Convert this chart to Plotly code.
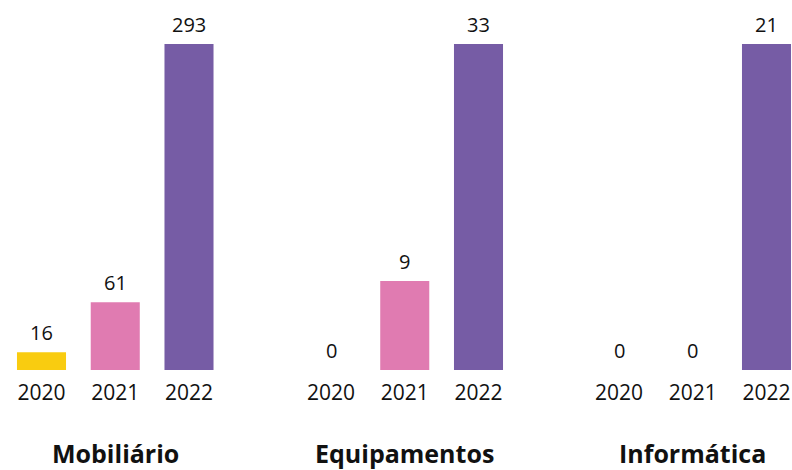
import plotly.graph_objects as go
from plotly.subplots import make_subplots

# data
groups = ['Mobiliário', 'Equipamentos', 'Informática']
years = ['2020', '2021', '2022']
mobiliario = [16, 61, 293]
equipamentos = [0, 9, 33]
informatica = [0, 0, 21]
values = [mobiliario, equipamentos, informatica]
colors = ['#F9CC10', '#E07BB1', '#765CA5']

W, H = 792, 470
group_x0 = [41.5, 331, 619]  # px centre of first bar in each group
spacing = 73.75
baseline_px = 370
top_px = 44  # top of tallest bar

fig = make_subplots(rows=1, cols=3)
font = 'Open Sans'

for i, (name, vals) in enumerate(zip(groups, values)):
    c0 = group_x0[i]
    left = c0 - 37
    right = min(c0 + 2 * spacing + 37, W)
    xa = 'xaxis' if i == 0 else f'xaxis{i+1}'
    ya = 'yaxis' if i == 0 else f'yaxis{i+1}'
    xr = 'x' if i == 0 else f'x{i+1}'
    yr = 'y' if i == 0 else f'y{i+1}'

    fig.add_trace(go.Bar(x=years, y=vals, marker_color=colors, marker_line_width=0,
                         hoverinfo='skip', showlegend=False), row=1, col=i + 1)

    ymax = max(vals) * baseline_px / (baseline_px - top_px)
    fig.layout[xa].update(type='category', domain=[left / W, right / W],
                          range=[(left - c0) / spacing, (right - c0) / spacing],
                          showgrid=False, zeroline=False, showline=False,
                          ticks='outside', ticklen=4, tickcolor='rgba(0,0,0,0)',
                          tickfont=dict(family=font, size=21, color='#111'))
    fig.layout[ya].update(domain=[1 - baseline_px / H, 1], range=[0, ymax],
                          showgrid=False, zeroline=False, showline=False,
                          showticklabels=False, ticks='')

    # value labels (x given as category index)
    for k, v in enumerate(vals):
        fig.add_annotation(x=k, y=v, xref=xr, yref=yr, text=str(v), showarrow=False,
                           yanchor='bottom', yshift=4,
                           font=dict(family=font, size=20, color='#111'))
    # group title
    fig.add_annotation(x=1, y=(H - 453) / H, xref=xr, yref='paper',
                       text='<b>' + name + '</b>', showarrow=False, yanchor='middle',
                       font=dict(family=font, size=25, color='#111'))

fig.update_layout(width=W, height=H, margin=dict(l=0, r=0, t=0, b=0),
                  bargap=0.335, plot_bgcolor='white', paper_bgcolor='white')

fig.write_html('out.html', config={'displayModeBar': False},
               post_script="document.body.style.margin='0';")
